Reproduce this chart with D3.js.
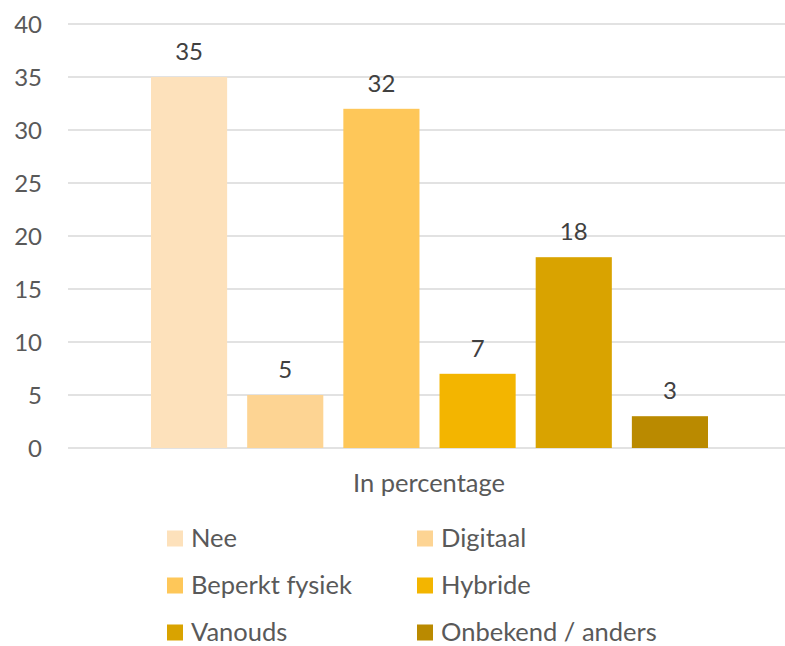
<!DOCTYPE html>
<html>
<head>
<meta charset="utf-8">
<script src="https://cdn.jsdelivr.net/npm/d3@7/dist/d3.min.js"></script>
<style>
  body { margin: 0; background: #fff; }
  text { font-family: Lato, "Noto Sans", sans-serif; }
</style>
</head>
<body>
<div id="chart"></div>
<script>
var categories = ["Nee", "Digitaal", "Beperkt fysiek", "Hybride", "Vanouds", "Onbekend / anders"];
var values = [35, 5, 32, 7, 18, 3];
var colors = ["#FDE1BB", "#FDD493", "#FEC759", "#F3B500", "#D9A300", "#BA8A00"];
var y_ticks = [0, 5, 10, 15, 20, 25, 30, 35, 40];
var axis_title = "In percentage";

var width = 785, height = 646;
var plot_left = 68, plot_right = 785;
var plot_top = 24, plot_bottom = 448;

var svg = d3.select("#chart").append("svg")
    .attr("width", width)
    .attr("height", height);

var y_scale = d3.scaleLinear()
    .domain([0, 40])
    .range([plot_bottom, plot_top]);

var x_scale = d3.scaleBand()
    .domain(categories)
    .range([151, 708])
    .paddingInner(0.2083)
    .paddingOuter(0);

// gridlines
svg.append("g").selectAll("line")
    .data(y_ticks)
  .enter().append("line")
    .attr("x1", plot_left)
    .attr("x2", plot_right)
    .attr("y1", function(d) { return y_scale(d); })
    .attr("y2", function(d) { return y_scale(d); })
    .attr("stroke", "#D9D9D9")
    .attr("stroke-width", 1.3);

// y tick labels
svg.append("g").selectAll("text")
    .data(y_ticks)
  .enter().append("text")
    .attr("x", 42)
    .attr("y", function(d) { return y_scale(d) + 8.5; })
    .attr("text-anchor", "end")
    .attr("font-size", 24)
    .attr("fill", "#595959")
    .text(function(d) { return d; });

// bars
svg.append("g").selectAll("rect")
    .data(values)
  .enter().append("rect")
    .attr("x", function(d, i) { return x_scale(categories[i]); })
    .attr("y", function(d) { return y_scale(d); })
    .attr("width", x_scale.bandwidth())
    .attr("height", function(d) { return plot_bottom - y_scale(d); })
    .attr("fill", function(d, i) { return colors[i]; });

// value labels
svg.append("g").selectAll("text")
    .data(values)
  .enter().append("text")
    .attr("x", function(d, i) { return x_scale(categories[i]) + x_scale.bandwidth() / 2; })
    .attr("y", function(d) { return y_scale(d) - 17; })
    .attr("text-anchor", "middle")
    .attr("font-size", 24)
    .attr("fill", "#404040")
    .text(function(d) { return d; });

// axis title
svg.append("text")
    .attr("x", 429)
    .attr("y", 492)
    .attr("text-anchor", "middle")
    .attr("font-size", 25.5)
    .attr("fill", "#595959")
    .text(axis_title);

// legend
var legend = svg.append("g").selectAll("g")
    .data(categories)
  .enter().append("g")
    .attr("transform", function(d, i) {
      var col = i % 2, row = Math.floor(i / 2);
      return "translate(" + (167 + col * 250) + "," + (538.5 + row * 47) + ")";
    });

legend.append("rect")
    .attr("x", 0)
    .attr("y", -8)
    .attr("width", 16)
    .attr("height", 16)
    .attr("fill", function(d, i) { return colors[i]; });

legend.append("text")
    .attr("x", 24)
    .attr("y", 8.5)
    .attr("font-size", 25.5)
    .attr("fill", "#595959")
    .text(function(d) { return d; });
</script>
</body>
</html>
